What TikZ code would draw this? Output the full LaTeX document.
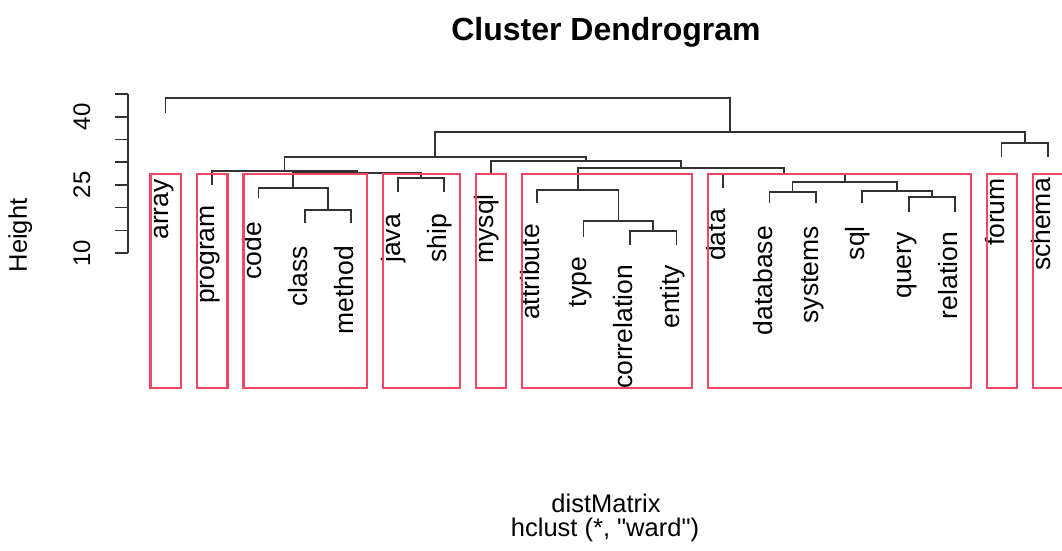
\documentclass[tikz,border=0pt]{standalone}
\usepackage{fontspec}
\setmainfont{Liberation Sans}[Ligatures=TeXOff]
\definecolor{rectred}{RGB}{238,72,102}
\definecolor{dendgray}{RGB}{50,50,50}
\begin{document}
\begin{tikzpicture}[x=1pt,y=-1pt,
  dend/.style={draw=dendgray, line width=1.7pt},
  axisline/.style={draw=dendgray, line width=1.6pt},
  redbox/.style={draw=rectred, line width=2.2pt},
  leaflab/.style={rotate=90, anchor=mid east, inner sep=0pt, font=\fontsize{26.5}{31}\selectfont},
  ticklab/.style={rotate=90, anchor=base, inner sep=0pt, font=\fontsize{24}{28}\selectfont},
  plaintext/.style={anchor=base, inner sep=0pt, font=\fontsize{25.5}{30}\selectfont}]
\useasboundingbox (0,0) rectangle (1062,550);
\fill[white] (0,0) rectangle (1062,550);

% title
\node[anchor=base, inner sep=0pt, font=\bfseries\fontsize{32}{36}\selectfont] (title) at (606,40) {Cluster Dendrogram};

% y axis
\coordinate (ax0) at (128,253);
\coordinate (ax1) at (128,94.1);
\draw[axisline] (ax0) -- (ax1);
\foreach \h in {10,15,...,45}{
  \pgfmathsetmacro{\yy}{253-(\h-10)*4.54}
  \draw[axisline] (115,\yy) -- (128,\yy);
}
\node[ticklab] (t10) at (90,253) {10};
\node[ticklab] (t25) at (90,184.9) {25};
\node[ticklab] (t40) at (90,116.8) {40};
\node[ticklab, font=\fontsize{25.5}{30}\selectfont] (ylab) at (27,235.5) {Height};

% leaf ends
\coordinate (e1) at (165.5,113);
\coordinate (e2) at (211.95,185);
\coordinate (e3) at (258.4,198);
\coordinate (e4) at (304.85,223);
\coordinate (e5) at (351.3,223);
\coordinate (e6) at (397.75,192);
\coordinate (e7) at (444.2,192);
\coordinate (e8) at (490.65,173);
\coordinate (e9) at (537.1,203);
\coordinate (e10) at (583.55,237);
\coordinate (e11) at (630,245);
\coordinate (e12) at (676.45,245);
\coordinate (e13) at (722.9,188);
\coordinate (e14) at (769.35,203);
\coordinate (e15) at (815.8,203);
\coordinate (e16) at (862.25,203);
\coordinate (e17) at (908.7,212);
\coordinate (e18) at (955.15,212);
\coordinate (e19) at (1001.6,157);
\coordinate (e20) at (1048.05,157);

% merge points
\coordinate (mcm) at (328.075,210);
\coordinate (mccm) at (293.24,188);
\coordinate (mjs) at (420.975,178);
\coordinate (mcj) at (357.11,173);
\coordinate (mpc) at (284.53,171);
\coordinate (mce) at (653.225,231);
\coordinate (mtce) at (618.39,221);
\coordinate (matt) at (577.74,190);
\coordinate (mqr) at (931.925,197);
\coordinate (msqr) at (897.09,191);
\coordinate (mds) at (792.575,192);
\coordinate (mdsq) at (844.83,182);
\coordinate (mdata) at (783.87,174);
\coordinate (mad) at (680.8,168);
\coordinate (mmy) at (585.73,161);
\coordinate (mL) at (435.13,157);
\coordinate (mfs) at (1024.83,143);
\coordinate (mR) at (729.98,132);
\coordinate (mtop) at (447.74,98);

% dendrogram connectors
\draw[dend] (e4) |- (mcm) -| (e5);
\draw[dend] (e3) |- (mccm) -| (mcm);
\draw[dend] (e6) |- (mjs) -| (e7);
\draw[dend] (mccm) |- (mcj) -| (mjs);
\draw[dend] (e2) |- (mpc) -| (mcj);
\draw[dend] (e11) |- (mce) -| (e12);
\draw[dend] (e10) |- (mtce) -| (mce);
\draw[dend] (e9) |- (matt) -| (mtce);
\draw[dend] (e17) |- (mqr) -| (e18);
\draw[dend] (e16) |- (msqr) -| (mqr);
\draw[dend] (e14) |- (mds) -| (e15);
\draw[dend] (mds) |- (mdsq) -| (msqr);
\draw[dend] (e13) |- (mdata) -| (mdsq);
\draw[dend] (matt) |- (mad) -| (mdata);
\draw[dend] (e8) |- (mmy) -| (mad);
\draw[dend] (mpc) |- (mL) -| (mmy);
\draw[dend] (e19) |- (mfs) -| (e20);
\draw[dend] (mL) |- (mR) -| (mfs);
\draw[dend] (e1) |- (mtop) -| (mR);

% leaf labels
\node[leaflab] (l1) at (165.5,179) {array};
\node[leaflab] (l2) at (211.95,205) {program};
\node[leaflab] (l3) at (258.4,222) {code};
\node[leaflab] (l4) at (304.85,246) {class};
\node[leaflab] (l5) at (351.3,246) {method};
\node[leaflab] (l6) at (397.75,214) {java};
\node[leaflab] (l7) at (444.2,214) {ship};
\node[leaflab] (l8) at (490.65,194) {mysql};
\node[leaflab] (l9) at (537.1,224) {attribute};
\node[leaflab] (l10) at (583.55,257) {type};
\node[leaflab] (l11) at (630,265) {correlation};
\node[leaflab] (l12) at (676.45,265) {entity};
\node[leaflab] (l13) at (722.9,209) {data};
\node[leaflab] (l14) at (769.35,226) {database};
\node[leaflab] (l15) at (815.8,226) {systems};
\node[leaflab] (l16) at (862.25,226) {sql};
\node[leaflab] (l17) at (908.7,232) {query};
\node[leaflab] (l18) at (955.15,232) {relation};
\node[leaflab] (l19) at (1001.6,178) {forum};
\node[leaflab] (l20) at (1048.05,178) {schema};

% cluster rectangles
\draw[redbox] (150.5,174) rectangle (181,388);
\draw[redbox] (197,174) rectangle (227.5,388);
\draw[redbox] (243.4,174) rectangle (366.8,388);
\draw[redbox] (382.75,174) rectangle (459.7,388);
\draw[redbox] (475.65,174) rectangle (506.15,388);
\draw[redbox] (522.1,174) rectangle (691.95,388);
\draw[redbox] (707.9,174) rectangle (970.65,388);
\draw[redbox] (986.6,174) rectangle (1017.1,388);
\draw[redbox] (1033,174) rectangle (1063.5,388);

% bottom titles
\node[plaintext] (xlab) at (606,512) {distMatrix};
\node[plaintext] (sub) at (605,536) {hclust (*, "ward")};
\end{tikzpicture}
\end{document}
